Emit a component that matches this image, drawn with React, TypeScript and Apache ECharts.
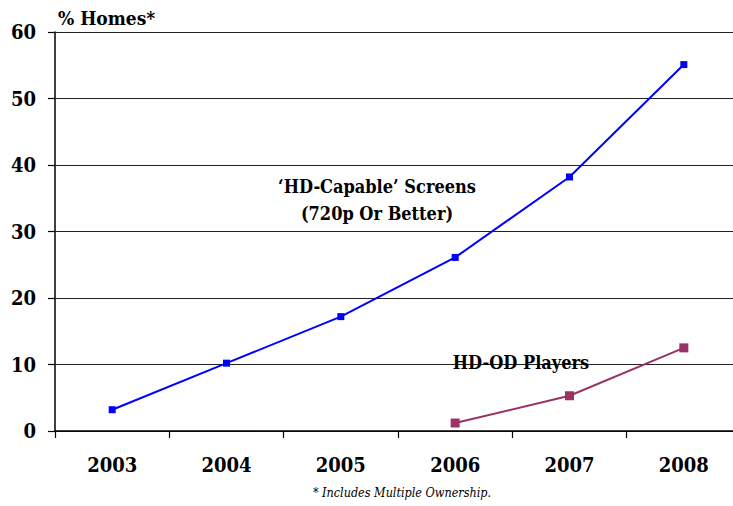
import React, { useEffect, useRef } from "react";
import * as echarts from "echarts";

const years = ["2003", "2004", "2005", "2006", "2007", "2008"];
const hdCapable = [3.2, 10.2, 17.2, 26.1, 38.2, 55.1];
const hdOdPlayers: (number | null)[] = [null, null, null, 1.2, 5.3, 12.5];
const yTicks = { min: 0, max: 60, interval: 10 };

const FONT = "DejaVu Serif Condensed, DejaVu Serif";

export default function App() {
  const ref = useRef<HTMLDivElement>(null);
  useEffect(() => {
    if (!ref.current) return;
    const chart = echarts.init(ref.current, undefined, { renderer: "svg" });
    chart.setOption({
      animation: false,
      backgroundColor: "#ffffff",
      grid: { left: 55, right: 0, top: 32, bottom: 75, containLabel: false },
      xAxis: {
        type: "category",
        data: years,
        boundaryGap: true,
        axisLine: { show: true, lineStyle: { color: "#000", width: 1.5 } },
        axisTick: { show: true, length: 7, interval: 0, lineStyle: { color: "#000", width: 1.2 } },
        axisLabel: {
          color: "#000",
          fontFamily: FONT,
          fontWeight: "bold",
          fontSize: 20,
          margin: 24,
        },
        splitLine: { show: false },
      },
      yAxis: {
        type: "value",
        min: yTicks.min,
        max: yTicks.max,
        interval: yTicks.interval,
        axisLine: { show: true, lineStyle: { color: "#000", width: 1.5 } },
        axisTick: { show: true, length: 7, lineStyle: { color: "#000", width: 1.2 } },
        axisLabel: {
          color: "#000",
          fontFamily: FONT,
          fontWeight: "bold",
          fontSize: 20,
          margin: 19,
        },
        splitLine: { show: true, lineStyle: { color: "#222", width: 1.2 } },
      },
      series: [
        {
          name: "'HD-Capable' Screens",
          type: "line",
          data: hdCapable,
          symbol: "rect",
          symbolSize: 7,
          itemStyle: { color: "#0000ff" },
          lineStyle: { color: "#0000ff", width: 2 },
          z: 3,
        },
        {
          name: "HD-OD Players",
          type: "line",
          data: hdOdPlayers,
          symbol: "rect",
          symbolSize: 9,
          itemStyle: { color: "#993366" },
          lineStyle: { color: "#993366", width: 2 },
          z: 3,
        },
      ],
      graphic: [
        {
          type: "text",
          left: 58,
          top: 8,
          style: {
            text: "% Homes*",
            fontFamily: FONT,
            fontWeight: "bold",
            fontSize: 19,
            fill: "#000",
          },
        },
        {
          type: "text",
          x: 377,
          y: 200,
          style: {
            text: "\u2018HD-Capable\u2019 Screens\n(720p Or Better)",
            fontFamily: FONT,
            fontWeight: "bold",
            fontSize: 18,
            fill: "#000",
            align: "center",
            verticalAlign: "middle",
            lineHeight: 27,
          },
          z: 10,
        },
        {
          type: "text",
          x: 521,
          y: 362,
          style: {
            text: "HD-OD Players",
            fontFamily: FONT,
            fontWeight: "bold",
            fontSize: 18,
            fill: "#000",
            align: "center",
            verticalAlign: "middle",
          },
          z: 10,
        },
        {
          type: "text",
          x: 402,
          y: 492,
          style: {
            text: "* Includes Multiple Ownership.",
            fontFamily: FONT,
            fontStyle: "italic",
            fontSize: 12.5,
            fill: "#000",
            align: "center",
            verticalAlign: "middle",
          },
        },
      ],
    });
    return () => chart.dispose();
  }, []);
  return (
    <div
      ref={ref}
      style={{ position: "fixed", left: 0, top: 0, width: 741, height: 506 }}
    />
  );
}
